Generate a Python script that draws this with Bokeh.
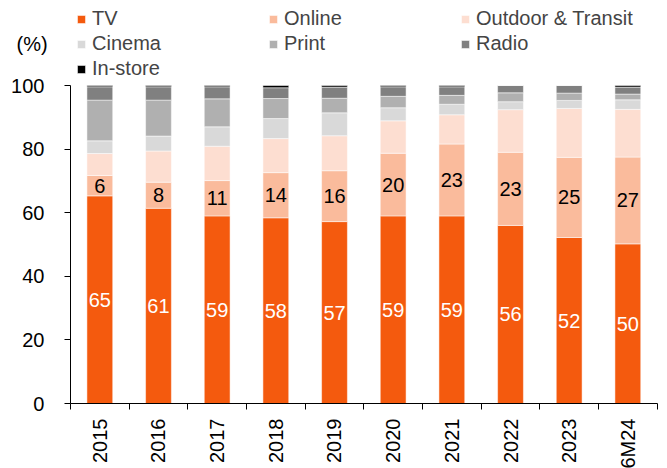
import numpy as np
from math import pi
from bokeh.plotting import figure
from bokeh.models import (Range1d, LinearAxis, FixedTicker, Legend, LegendItem,
                          Label, ColumnDataSource)
from bokeh.core.properties import value
from bokeh.embed import file_html
from bokeh.resources import INLINE

# ---- data ----
categories = ["2015", "2016", "2017", "2018", "2019", "2020", "2021", "2022", "2023", "6M24"]
tv      = [65.3, 61.4, 59.0, 58.4, 57.2, 59.0, 59.0, 56.0, 52.2, 50.2]
online  = [6.4, 8.2, 11.1, 14.2, 16.0, 19.7, 22.6, 23.0, 25.2, 27.3]
outdoor = [6.9, 9.8, 10.8, 10.7, 11.0, 10.2, 9.2, 13.4, 15.4, 15.0]
cinema  = [4.0, 4.7, 6.1, 6.3, 7.2, 4.1, 3.3, 2.5, 2.5, 3.0]
print_  = [12.8, 11.3, 8.8, 6.3, 4.6, 3.6, 2.8, 2.8, 2.3, 1.8]
radio   = [4.2, 4.2, 3.8, 3.4, 3.5, 3.0, 2.7, 2.3, 2.4, 2.2]
instore = [0.4, 0.4, 0.4, 0.7, 0.5, 0.4, 0.4, 0.0, 0.0, 0.5]
y_ticks = [0, 20, 40, 60, 80, 100]

series_names = ["TV", "Online", "Outdoor & Transit", "Cinema", "Print", "Radio", "In-store"]
series_values = [tv, online, outdoor, cinema, print_, radio, instore]
series_colors = ["#F45A0E", "#FABB9C", "#FDDED1", "#D9D9D9", "#B0B0B0", "#808080", "#000000"]

FONT = "Liberation Sans"

x = np.arange(len(categories)) + 0.5
data = {"x": x}
for n, v in zip(series_names, series_values):
    data[n] = v
source = ColumnDataSource(data)

p = figure(width=667, height=468, output_backend="svg", toolbar_location=None,
           x_range=Range1d(-1.193, 10.176), y_range=Range1d(-20.44, 126.73),
           x_axis_type=None, y_axis_type=None, min_border=0,
           outline_line_color=None, background_fill_color="white",
           border_fill_color="white")

renderers = p.vbar_stack(series_names, x="x", width=0.44, source=source,
                         fill_color=series_colors, line_color="white", line_width=0.5)

# data labels
tv_a = np.array(tv)
on_a = np.array(online)
tv_lab = ColumnDataSource(dict(x=x, y=tv_a / 2, t=[f"{v:.0f}" for v in tv]))
on_lab = ColumnDataSource(dict(x=x, y=tv_a + on_a / 2, t=[f"{v:.0f}" for v in online]))
p.text(x="x", y="y", text="t", source=tv_lab, text_color="white",
       text_align="center", text_baseline="middle",
       text_font=value(FONT), text_font_size="20px")
p.text(x="x", y="y", text="t", source=on_lab, text_color="black",
       text_align="center", text_baseline="middle",
       text_font=value(FONT), text_font_size="20px")

# axes
xaxis = LinearAxis(fixed_location=0, bounds=(0, len(categories)),
                   ticker=FixedTicker(ticks=list(x), minor_ticks=list(range(len(categories) + 1))),
                   major_label_overrides={float(xi): c for xi, c in zip(x, categories)},
                   major_tick_out=0, major_tick_in=0, minor_tick_out=6, minor_tick_in=0,
                   major_label_orientation=pi / 2, major_label_standoff=9,
                   major_label_text_font=FONT, major_label_text_font_size="20px",
                   major_label_text_color="black",
                   axis_line_color="black", minor_tick_line_color="black")
p.add_layout(xaxis, "below")

yaxis = LinearAxis(fixed_location=0, bounds=(0, 100),
                   ticker=FixedTicker(ticks=y_ticks),
                   major_tick_out=6, major_tick_in=0, minor_tick_out=0, minor_tick_in=0,
                   major_label_standoff=20,
                   major_label_text_font=FONT, major_label_text_font_size="20px",
                   major_label_text_color="black",
                   axis_line_color="black", major_tick_line_color="black")
p.add_layout(yaxis, "left")

# legend
items = [LegendItem(label=n, renderers=[r]) for n, r in zip(series_names, renderers)]
legend = Legend(items=items, orientation="horizontal", ncols=3, location=(76, 388),
                glyph_width=10, glyph_height=10, label_standoff=6, label_width=174,
                spacing=2, padding=0, margin=0, border_line_color=None,
                background_fill_alpha=0, label_text_font=FONT,
                label_text_font_size="20px", label_height=20)
p.add_layout(legend)

p.add_layout(Label(x=-0.92, y=113.2, text="(%)", text_font=FONT, text_font_size="20px",
                   text_baseline="middle", text_color="black"))

open("out.html", "w").write(file_html(p, INLINE))
